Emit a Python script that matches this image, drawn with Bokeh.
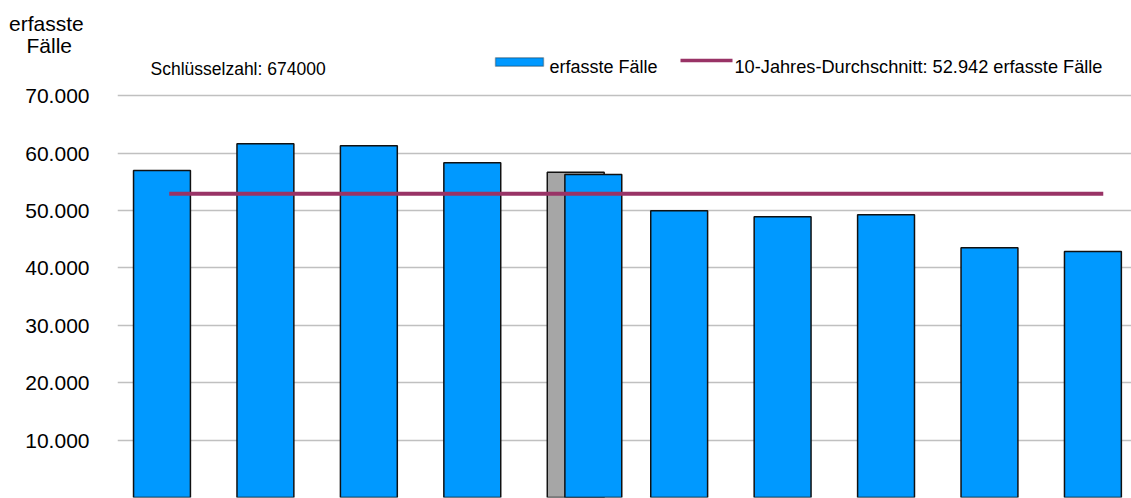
from bokeh.plotting import figure
from bokeh.models import Range1d, FixedTicker, CustomJSTickFormatter, Label, BoxAnnotation, ColumnDataSource
from bokeh.embed import file_html
from bokeh.resources import INLINE

# ---- data ----
jahre = ["J1", "J2", "J3", "J4", "J5", "J6", "J7", "J8", "J9", "J10"]
erfasste_faelle = [56980, 61630, 61280, 58320, 56280, 49950, 48910, 49260, 43510, 42870]
vergleich_index = 4          # slot that carries an additional grey comparison bar
vergleich_wert = 56680
durchschnitt = 52942
y_ticks = [10000, 20000, 30000, 40000, 50000, 60000, 70000]
grid_ticks = [0] + y_ticks
schluesselzahl = "674000"
achsentitel = ["erfasste", "Fälle"]

BLUE = "#0099ff"
GREY = "#a6a6a6"
AVG = "#993366"
FONT = "Liberation Sans"

pos = [i + 1 for i in range(len(jahre))]
blue_x = [p_ + (0.17 if i == vergleich_index else 0.0) for i, p_ in enumerate(pos)]

Y_TOP = 86607
p = figure(width=1131, height=498, output_backend="svg", toolbar_location=None,
           x_range=Range1d(0.570, 10.373), y_range=Range1d(0, Y_TOP),
           x_axis_location=None, min_border_left=117, min_border_right=0,
           min_border_top=0, min_border_bottom=1)
p.outline_line_color = None
p.background_fill_color = "white"
p.border_fill_color = "white"

p.xgrid.visible = False
p.ygrid.ticker = FixedTicker(ticks=grid_ticks)
p.ygrid.grid_line_color = "#c0c0c0"
p.ygrid.grid_line_width = 1.5

# axis title is shown at the top of the value axis (positions for the two title lines)
title_pos = [82600, 78770]
ax = p.yaxis[0]
ax.ticker = FixedTicker(ticks=y_ticks + title_pos)
ax.formatter = CustomJSTickFormatter(code="return Math.round(tick).toString().replace(/\\B(?=(\\d{3})+(?!\\d))/g, '.');")
ax.major_label_overrides = {title_pos[0]: achsentitel[0] + "\u00a0",
                            title_pos[1]: achsentitel[1] + "\u00a0\u00a0\u00a0"}
ax.axis_line_color = None
ax.major_tick_line_color = None
ax.minor_tick_line_color = None
ax.major_tick_out = 0
ax.major_tick_in = 0
ax.major_label_standoff = 28
ax.major_label_text_font = FONT
ax.major_label_text_font_size = "21px"
ax.major_label_text_color = "black"

# grey comparison bar (behind)
p.vbar(x=[pos[vergleich_index]], top=[vergleich_wert], width=0.55, bottom=0,
       fill_color=GREY, line_color="#111111", line_width=1.5)

src = ColumnDataSource(dict(x=blue_x, top=erfasste_faelle, jahr=jahre))
p.vbar(x="x", top="top", width=0.55, bottom=0, source=src,
       fill_color=BLUE, line_color="#111111", line_width=1.5)

# 10-year average line
p.line(x=[pos[0] + 0.07, pos[-1] + 0.10], y=[durchschnitt, durchschnitt],
       line_color=AVG, line_width=4)

# key number
p.add_layout(Label(x=33, y=428.7, x_units="screen", y_units="screen",
                   text="Schlüsselzahl: " + schluesselzahl,
                   text_align="left", text_baseline="alphabetic",
                   text_font=FONT, text_font_size="17.5px", text_color="black"))

# legend (manual)
p.add_layout(BoxAnnotation(left=378, right=426, bottom=431.3, top=439.7,
                           left_units="screen", right_units="screen",
                           bottom_units="screen", top_units="screen",
                           fill_color=BLUE, fill_alpha=1, line_color="#111111", line_width=1.5))
p.add_layout(Label(x=432, y=431, x_units="screen", y_units="screen", text="erfasste Fälle",
                   text_align="left", text_baseline="alphabetic",
                   text_font=FONT, text_font_size="18px", text_color="black"))
p.add_layout(BoxAnnotation(left=563, right=615, bottom=435.2, top=438.8,
                           left_units="screen", right_units="screen",
                           bottom_units="screen", top_units="screen",
                           fill_color=AVG, fill_alpha=1, line_color=None))
p.add_layout(Label(x=617, y=431, x_units="screen", y_units="screen",
                   text="10-Jahres-Durchschnitt: 52.942 erfasste Fälle",
                   text_align="left", text_baseline="alphabetic",
                   text_font=FONT, text_font_size="18.2px", text_color="black"))

open("out.html", "w").write(file_html(p, INLINE))
